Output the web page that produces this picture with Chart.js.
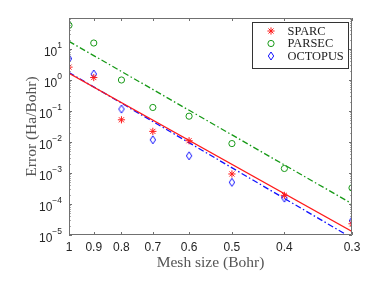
<!DOCTYPE html>
<html><head><meta charset="utf-8">
<script src="https://cdn.jsdelivr.net/npm/chart.js@4.4.1/dist/chart.umd.min.js"></script>
<style>html,body{margin:0;padding:0;background:#fff;overflow:hidden}#wrap{width:382px;height:287px}</style>
</head><body><div id="wrap"><canvas id="c" width="382" height="287"></canvas></div>
<script>
// ---- data ----
const meshSizes = [1, 0.9, 0.8, 0.7, 0.6, 0.5, 0.4, 0.3];
const sparcErr = [2.6, 1.2, 0.052, 0.022, 0.011, 9.3e-4, 1.9e-4, 2.3e-5];
const parsecErr = [58, 15.6, 1.0, 0.13, 0.068, 0.0089, 0.0014, 3.3e-4];
const octopusErr = [4.9, 1.56, 0.115, 0.0118, 0.0036, 5.0e-4, 1.55e-4, 2.9e-5];
const fitMesh = [1, 0.3];
const sparcFit = [1.65, 1.3e-5];
const parsecFit = [17.6, 1.02e-4];
const octopusFit = [1.75, 8.0e-6];
const seriesNames = ['SPARC', 'PARSEC', 'OCTOPUS'];
const xTickValues = [1, 0.9, 0.8, 0.7, 0.6, 0.5, 0.4, 0.3];
const yTickExponents = [-5, -4, -3, -2, -1, 0, 1];
const xTitle = 'Mesh size (Bohr)';
const yTitle = 'Error (Ha/Bohr)';

const RED = '#ff1a1a', GREEN = '#169916', BLUE = '#1010ff';
const AXIS = '#707070', TICKTXT = '#262626', TITLE = '#555555';
const SANS = '"Liberation Sans", Arial, sans-serif';
const SERIF = '"Liberation Serif", "Times New Roman", serif';

// diamond marker
function makeDiamond(){
  const cv = document.createElement('canvas');
  cv.width = 8; cv.height = 10;
  const g = cv.getContext('2d');
  g.strokeStyle = BLUE; g.lineWidth = 1;
  g.beginPath();
  g.moveTo(4, 1); g.lineTo(6.7, 5); g.lineTo(4, 9); g.lineTo(1.3, 5); g.closePath();
  g.stroke();
  return cv;
}
const diamond = makeDiamond();

const pts = arr => meshSizes.map((x, i) => ({x: x, y: arr[i]}));
const fit = arr => fitMesh.map((x, i) => ({x: x, y: arr[i]}));

const datasets = [
  {label: seriesNames[0], data: pts(sparcErr), showLine: false, pointStyle: 'star', pointRadius: 3.6, pointBorderColor: RED, borderColor: RED, pointBorderWidth: 1, backgroundColor: 'transparent'},
  {label: seriesNames[1], data: pts(parsecErr), showLine: false, pointStyle: 'circle', pointRadius: 3.1, pointBorderColor: GREEN, borderColor: GREEN, pointBorderWidth: 1, backgroundColor: 'transparent'},
  {label: seriesNames[2], data: pts(octopusErr), showLine: false, pointStyle: diamond, pointRadius: 4, borderColor: BLUE, backgroundColor: 'transparent'},
  {label: 'SPARC fit', data: fit(sparcFit), showLine: true, pointRadius: 0, borderColor: RED, borderWidth: 1.3, fill: false},
  {label: 'PARSEC fit', data: fit(parsecFit), showLine: true, pointRadius: 0, borderColor: GREEN, borderWidth: 1.3, borderDash: [6, 2.5, 1.5, 2.5], fill: false},
  {label: 'OCTOPUS fit', data: fit(octopusFit), showLine: true, pointRadius: 0, borderColor: BLUE, borderWidth: 1.3, borderDash: [6, 2.5, 1.5, 2.5], fill: false}
];

const framePlugin = {
  id: 'frame',
  afterDraw(chart){
    const ctx = chart.ctx, a = chart.chartArea;
    const xs = chart.scales.x, ys = chart.scales.y;
    ctx.save();
    ctx.strokeStyle = AXIS; ctx.lineWidth = 1;
    // box
    ctx.beginPath();
    ctx.moveTo(a.left + 0.5, a.top + 0.5); ctx.lineTo(a.right - 0.5, a.top + 0.5);
    ctx.lineTo(a.right - 0.5, a.bottom - 0.5); ctx.lineTo(a.left + 0.5, a.bottom - 0.5); ctx.closePath();
    ctx.stroke();
    // x ticks (bottom & top, inward)
    ctx.beginPath();
    xTickValues.forEach(v => {
      const px = Math.round(xs.getPixelForValue(v)) + 0.5;
      ctx.moveTo(px, a.bottom); ctx.lineTo(px, a.bottom - 3);
      ctx.moveTo(px, a.top); ctx.lineTo(px, a.top + 3);
    });
    // y ticks major & minor (left & right)
    for (let e = -5; e <= 1; e++) {
      for (let m = 1; m <= 9; m++) {
        const v = m * Math.pow(10, e);
        const py = Math.round(ys.getPixelForValue(v)) + 0.5;
        const len = m === 1 ? 3 : 1.6;
        ctx.moveTo(a.left, py); ctx.lineTo(a.left + len, py);
        ctx.moveTo(a.right, py); ctx.lineTo(a.right - len, py);
      }
    }
    ctx.stroke();

    // y tick labels: 10 with superscript exponent
    ctx.fillStyle = TICKTXT;
    ctx.textBaseline = 'alphabetic';
    yTickExponents.forEach(e => {
      const py = ys.getPixelForValue(Math.pow(10, e));
      const ex = String(e).replace('-', '\u2212');
      ctx.font = '8.5px ' + SANS;
      const ew = ctx.measureText(ex).width;
      const right = a.left - 7;
      ctx.textAlign = 'left';
      ctx.fillText(ex, right - ew, py - 1);
      ctx.font = '12px ' + SANS;
      ctx.textAlign = 'right';
      ctx.fillText('10', right - ew, py + 6.5);
    });

    // axis titles
    ctx.fillStyle = TITLE;
    ctx.font = '15.5px ' + SERIF;
    ctx.textAlign = 'center'; ctx.textBaseline = 'middle';
    ctx.fillText(xTitle, (a.left + a.right) / 2, 263);
    ctx.save();
    ctx.translate(32, (a.top + a.bottom) / 2);
    ctx.rotate(-Math.PI / 2);
    ctx.fillText(yTitle, 0, 0);
    ctx.restore();

    // legend
    const lx = 252.5, ly = 22.5, lw = 96, lh = 46;
    ctx.fillStyle = '#fff';
    ctx.fillRect(lx, ly, lw, lh);
    ctx.strokeStyle = '#333'; ctx.lineWidth = 1;
    ctx.strokeRect(lx, ly, lw, lh);
    ctx.font = '12.4px ' + SERIF;
    ctx.textAlign = 'left'; ctx.textBaseline = 'middle';
    const rows = [31, 43.5, 56];
    seriesNames.forEach((name, i) => {
      const ds = chart.data.datasets[i];
      const y = rows[i];
      if (ds.pointStyle instanceof HTMLCanvasElement) {
        ctx.drawImage(ds.pointStyle, 271 - ds.pointStyle.width / 2, y - ds.pointStyle.height / 2);
      } else {
        ctx.save();
        ctx.strokeStyle = ds.pointBorderColor; ctx.lineWidth = ds.pointBorderWidth;
        ctx.fillStyle = 'rgba(0,0,0,0)';
        Chart.helpers.drawPoint(ctx, {pointStyle: ds.pointStyle, radius: ds.pointRadius, borderWidth: ds.pointBorderWidth, rotation: 0}, 271, y);
        ctx.restore();
      }
      ctx.fillStyle = '#222';
      ctx.fillText(name, 287.5, y + 0.5);
    });
    ctx.restore();
  }
};

new Chart(document.getElementById('c'), {
  type: 'scatter',
  data: {datasets: datasets},
  options: {
    responsive: false, animation: false, devicePixelRatio: 1,
    layout: {padding: {left: 0, top: 18, right: 30, bottom: 0}},
    plugins: {legend: {display: false}, tooltip: {enabled: false}},
    scales: {
      x: {
        type: 'logarithmic', reverse: true, min: 0.3, max: 1, position: 'bottom',
        grid: {display: false, drawTicks: false},
        border: {display: false},
        ticks: {color: TICKTXT, font: {family: SANS, size: 12}, padding: 5, autoSkip: false, maxRotation: 0,
          callback: v => String(v)},
        afterBuildTicks: s => { s.ticks = xTickValues.map(v => ({value: v})); },
        afterFit: s => { s.height = 52; }
      },
      y: {
        type: 'logarithmic', min: 1e-5, max: 100, position: 'left',
        grid: {display: false, drawTicks: false},
        border: {display: false},
        ticks: {display: false},
        afterBuildTicks: s => { s.ticks = yTickExponents.map(e => ({value: Math.pow(10, e)})); },
        afterFit: s => { s.width = 69; }
      }
    }
  },
  plugins: [framePlugin]
});
</script>
</body></html>
